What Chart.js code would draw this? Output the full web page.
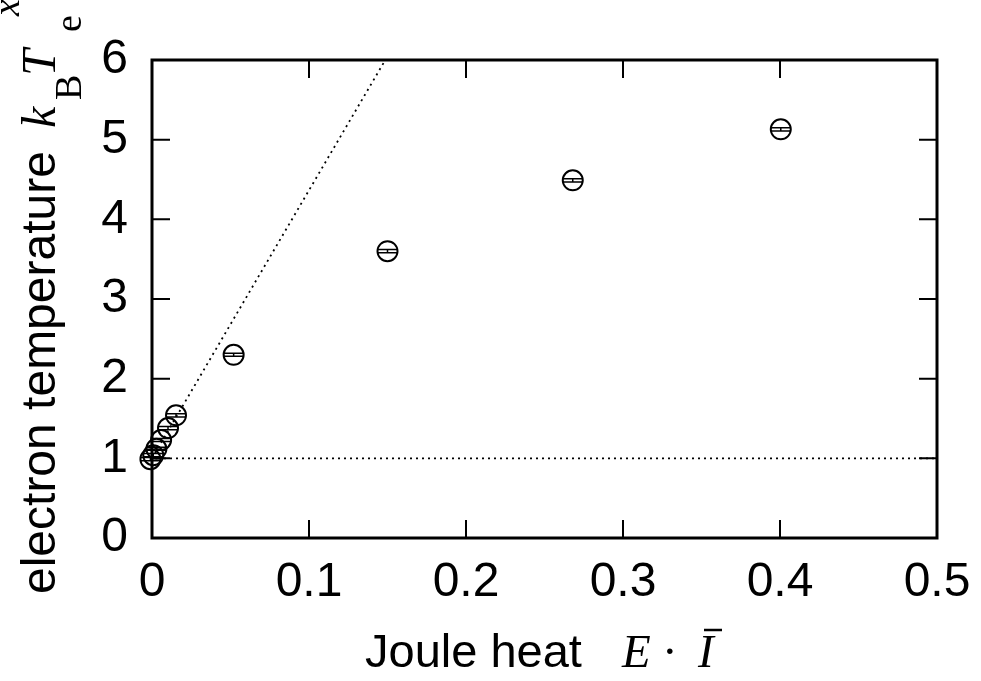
<!DOCTYPE html>
<html>
<head>
<meta charset="utf-8">
<script src="https://cdn.jsdelivr.net/npm/chart.js@4.4.1/dist/chart.umd.min.js"></script>
<style>
  body { margin: 0; background: #fff; }
  canvas { display: block; }
</style>
</head>
<body>
<canvas id="chart" width="981" height="681"></canvas>
<script>
// measured points (Joule heat vs electron temperature)
const jouleHeat = [-0.0010, 0.0008, 0.0028, 0.0058, 0.0102, 0.0153, 0.052, 0.150, 0.268, 0.4005];
const electronTemp = [0.99, 1.04, 1.12, 1.23, 1.38, 1.54, 2.30, 3.60, 4.49, 5.13];
const tempError = [0.02, 0.02, 0.02, 0.02, 0.02, 0.02, 0.02, 0.02, 0.02, 0.02];

// dotted guide lines
const baselineX = [0, 0.5];
const baselineY = [1, 1];
const slopeX = [0, 0.1486];
const slopeY = [1, 6];

const xTicks = [0, 0.1, 0.2, 0.3, 0.4, 0.5];
const yTicks = [0, 1, 2, 3, 4, 5, 6];

const SANS = '"Liberation Sans", Arial, sans-serif';
const SERIF = '"Liberation Serif", "Times New Roman", serif';

const toPoints = (xs, ys) => xs.map((x, i) => ({ x: x, y: ys[i] }));

// gnuplot-ish frame with inward ticks, error bars and the axis titles
const framePlugin = {
    id: 'frame',
    afterDatasetsDraw(chart) {
        const { ctx, scales } = chart;
        const meta = chart.getDatasetMeta(2);

        // error bars
        ctx.save();
        ctx.strokeStyle = '#000';
        ctx.lineWidth = 1.5;
        meta.data.forEach((pt, i) => {
            const yHi = scales.y.getPixelForValue(electronTemp[i] + tempError[i]);
            const yLo = scales.y.getPixelForValue(electronTemp[i] - tempError[i]);
            ctx.beginPath();
            ctx.moveTo(pt.x, yHi); ctx.lineTo(pt.x, yLo);
            ctx.moveTo(pt.x - 10, yHi); ctx.lineTo(pt.x + 10, yHi);
            ctx.moveTo(pt.x - 10, yLo); ctx.lineTo(pt.x + 10, yLo);
            ctx.stroke();
        });
        ctx.restore();
    },
    afterDraw(chart) {
        const { ctx, chartArea: a, scales } = chart;
        ctx.save();
        ctx.strokeStyle = '#000';
        ctx.lineWidth = 2;
        const tl = 18;
        ctx.beginPath();
        xTicks.forEach(v => {
            const px = scales.x.getPixelForValue(v);
            ctx.moveTo(px, a.bottom); ctx.lineTo(px, a.bottom - tl);
            ctx.moveTo(px, a.top); ctx.lineTo(px, a.top + tl);
        });
        yTicks.forEach(v => {
            const py = scales.y.getPixelForValue(v);
            ctx.moveTo(a.left, py); ctx.lineTo(a.left + tl, py);
            ctx.moveTo(a.right, py); ctx.lineTo(a.right - tl, py);
        });
        ctx.stroke();
        ctx.lineWidth = 3;
        ctx.strokeRect(a.left, a.top, a.right - a.left, a.bottom - a.top);

        // x title
        ctx.fillStyle = '#000';
        ctx.textBaseline = 'alphabetic';
        ctx.textAlign = 'left';
        ctx.font = '47px ' + SANS;
        ctx.fillText('Joule heat', 365, 667);
        ctx.font = 'italic 47px ' + SERIF;
        ctx.fillText('E', 622, 667);
        ctx.font = '47px ' + SERIF;
        ctx.fillText('\u00b7', 662, 667);
        ctx.font = 'italic 47px ' + SERIF;
        ctx.fillText('I', 698, 667);
        ctx.lineWidth = 2.5;
        ctx.beginPath();
        ctx.moveTo(704, 630); ctx.lineTo(722, 630);
        ctx.stroke();

        // y title (rotated)
        ctx.translate(55, 594);
        ctx.rotate(-Math.PI / 2);
        ctx.font = '48px ' + SANS;
        ctx.fillText('electron temperature', 0, 0);
        ctx.font = 'italic 48px ' + SERIF;
        ctx.fillText('k', 466, 0);
        ctx.font = '38px ' + SERIF;
        ctx.fillText('B', 494, 26);
        ctx.font = 'italic 48px ' + SERIF;
        ctx.fillText('T', 518, 0);
        ctx.font = '38px ' + SERIF;
        ctx.fillText('e', 562, 26);
        ctx.font = 'italic 38px ' + SERIF;
        ctx.fillText('x', 578, -36);
        ctx.restore();
    }
};

new Chart(document.getElementById('chart'), {
    type: 'scatter',
    data: {
        datasets: [
            {
                type: 'line',
                data: toPoints(baselineX, baselineY),
                borderColor: '#000',
                borderWidth: 1.8,
                borderDash: [2, 4],
                pointRadius: 0,
                fill: false,
            },
            {
                type: 'line',
                data: toPoints(slopeX, slopeY),
                borderColor: '#000',
                borderWidth: 1.8,
                borderDash: [2, 4],
                pointRadius: 0,
                fill: false,
            },
            {
                data: toPoints(jouleHeat, electronTemp),
                pointStyle: 'circle',
                pointRadius: 10,
                borderColor: '#000',
                borderWidth: 2,
                backgroundColor: 'rgba(0,0,0,0)',
                clip: false,
            },
        ],
    },
    options: {
        responsive: false,
        animation: false,
        events: [],
        layout: { padding: { top: 60, right: 44, left: 0, bottom: 0 } },
        scales: {
            x: {
                type: 'linear',
                min: 0,
                max: 0.5,
                afterFit: (s) => { s.height = 143; s.paddingLeft = 0; s.paddingRight = 0; },
                afterBuildTicks: (s) => { s.ticks = xTicks.map(v => ({ value: v })); },
                grid: { display: false, drawTicks: false },
                border: { display: false },
                ticks: {
                    color: '#000',
                    padding: 16,
                    maxRotation: 0,
                    font: { family: SANS, size: 48 },
                    callback: (v) => String(v),
                },
            },
            y: {
                type: 'linear',
                min: 0,
                max: 6,
                afterFit: (s) => { s.width = 152; s.paddingTop = 0; s.paddingBottom = 0; },
                afterBuildTicks: (s) => { s.ticks = yTicks.map(v => ({ value: v })); },
                grid: { display: false, drawTicks: false },
                border: { display: false },
                ticks: {
                    color: '#000',
                    padding: 24,
                    font: { family: SANS, size: 48 },
                    callback: (v) => String(v),
                },
            },
        },
        plugins: {
            legend: { display: false },
            tooltip: { enabled: false },
        },
    },
    plugins: [framePlugin],
});
</script>
</body>
</html>
